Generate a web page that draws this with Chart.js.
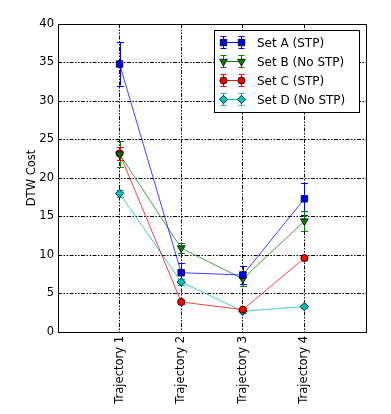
<!DOCTYPE html>
<html>
<head>
<meta charset="utf-8">
<script src="https://cdn.jsdelivr.net/npm/chart.js@4/dist/chart.umd.min.js"></script>
<style>
  html, body { margin: 0; padding: 0; background: #fff; }
</style>
</head>
<body>
<canvas id="dtw-chart" width="391" height="414"></canvas>
<script>
'use strict';

// values
const trajectories = ['Trajectory 1', 'Trajectory 2', 'Trajectory 3', 'Trajectory 4'];
const yTicks = [0, 5, 10, 15, 20, 25, 30, 35, 40];

const seriesNames = ['Set A (STP)', 'Set B (No STP)', 'Set C (STP)', 'Set D (No STP)'];
const setA = [34.8, 7.7, 7.4, 17.3];
const setB = [23.1, 10.9, 6.9, 14.4];
const setC = [23.2, 3.9, 2.9, 9.6];
const setD = [18.0, 6.5, 2.7, 3.3];
const errA = [2.8, 1.2, 1.2, 2.1];
const errB = [1.7, 0.7, 0.9, 1.3];
const errC = [0.8, 0.2, 0.2, 0.3];
const errD = [0.5, 0.4, 0.2, 0.2];

const colors = ['#0000ff', '#008000', '#ff0000', '#00bfbf'];
const lineColors = ['rgba(0,0,255,0.75)', 'rgba(0,128,0,0.75)', 'rgba(255,0,0,0.75)', 'rgba(0,191,191,0.75)'];
const markers = ['rect', 'triangle', 'circle', 'rectRot'];
const markerRot = [0, 180, 0, 0];
const markerSize = [4.6, 4.5, 3.6, 4.2];

const FONT = 'DejaVu Sans';
const gridDash = [4, 1.5, 1.5, 1.5, 1.5, 1.5];

const toPoints = function(vals) {
  let out = [];
  for (let i = 0; i < vals.length; i++) {
    out.push({ x: i + 1, y: vals[i] });
  }
  return out;
};

const allSets = [setA, setB, setC, setD];
const allErrs = [errA, errB, errC, errD];

let datasets = [];
for (let s = 0; s < allSets.length; s++) {
  datasets.push({
    label: seriesNames[s],
    data: toPoints(allSets[s]),
    errors: allErrs[s],
    borderColor: lineColors[s],
    backgroundColor: colors[s],
    borderWidth: 1,
    pointStyle: markers[s],
    rotation: markerRot[s],
    pointRadius: markerSize[s],
    pointBackgroundColor: colors[s],
    pointBorderColor: '#000',
    pointBorderWidth: 0.8,
    tension: 0
  });
}

const drawMarker = function(ctx, s, x, y) {
  ctx.save();
  ctx.fillStyle = colors[s];
  ctx.strokeStyle = '#000';
  ctx.lineWidth = 0.8;
  Chart.helpers.drawPoint(ctx, {
    pointStyle: markers[s],
    rotation: markerRot[s],
    radius: markerSize[s],
    borderWidth: 0.8
  }, x, y);
  ctx.restore();
};

const errorBars = {
  id: 'errorBars',
  beforeDatasetsDraw(chart) {
    const ctx = chart.ctx;
    const xs = chart.scales.x;
    const ys = chart.scales.y;
    chart.data.datasets.forEach(function(ds, s) {
      ctx.save();
      ctx.strokeStyle = colors[s];
      ctx.lineWidth = 1;
      ds.data.forEach(function(p, i) {
        const px = Math.round(xs.getPixelForValue(p.x)) + 0.5;
        const top = ys.getPixelForValue(p.y + ds.errors[i]);
        const bot = ys.getPixelForValue(p.y - ds.errors[i]);
        ctx.beginPath();
        ctx.moveTo(px, top);
        ctx.lineTo(px, bot);
        ctx.moveTo(px - 3.5, Math.round(top) + 0.5);
        ctx.lineTo(px + 3.5, Math.round(top) + 0.5);
        ctx.moveTo(px - 3.5, Math.round(bot) + 0.5);
        ctx.lineTo(px + 3.5, Math.round(bot) + 0.5);
        ctx.stroke();
      });
      ctx.restore();
    });
  },
  afterDraw(chart) {
    const ctx = chart.ctx;
    const a = chart.chartArea;
    // frame
    ctx.save();
    ctx.strokeStyle = '#000';
    ctx.lineWidth = 1;
    ctx.strokeRect(Math.round(a.left) + 0.5, Math.round(a.top) + 0.5,
      Math.round(a.right - a.left), Math.round(a.bottom - a.top));
    ctx.restore();

    // legend box in the upper right
    const bx = 214.5, by = 30.5, bw = 145, bh = 82;
    ctx.save();
    ctx.fillStyle = '#fff';
    ctx.fillRect(bx, by, bw, bh);
    ctx.strokeStyle = '#000';
    ctx.lineWidth = 1;
    ctx.strokeRect(bx, by, bw, bh);
    ctx.font = '12px "' + FONT + '"';
    ctx.textBaseline = 'middle';
    ctx.textAlign = 'left';
    for (let s = 0; s < seriesNames.length; s++) {
      const ry = Math.round(41.5 + s * 19.3) + 0.5;
      const x1 = 223.5, x2 = 241.5;
      ctx.strokeStyle = colors[s];
      ctx.lineWidth = 1;
      ctx.beginPath();
      ctx.moveTo(x1, ry);
      ctx.lineTo(x2, ry);
      [x1, x2].forEach(function(ex) {
        ctx.moveTo(ex, ry - 6);
        ctx.lineTo(ex, ry + 6);
        ctx.moveTo(ex - 3, ry - 6);
        ctx.lineTo(ex + 3, ry - 6);
        ctx.moveTo(ex - 3, ry + 6);
        ctx.lineTo(ex + 3, ry + 6);
      });
      ctx.stroke();
      drawMarker(ctx, s, x1, ry);
      drawMarker(ctx, s, x2, ry);
      ctx.fillStyle = '#000';
      ctx.fillText(seriesNames[s], 257, ry + 1);
    }
    ctx.restore();
  }
};

const ctx = document.getElementById('dtw-chart').getContext('2d');

const myChart = new Chart(ctx, {
  type: 'line',
  data: { datasets: datasets },
  plugins: [errorBars],
  options: {
    responsive: false,
    animation: false,
    layout: { padding: { top: 24, right: 25, left: 25, bottom: 0 } },
    plugins: {
      legend: { display: false },
      tooltip: { enabled: false }
    },
    scales: {
      x: {
        type: 'linear',
        min: 0,
        max: 5,
        afterBuildTicks(scale) {
          scale.ticks = trajectories.map(function(t, i) { return { value: i + 1 }; });
        },
        afterFit(scale) { scale.height = 82; },
        ticks: {
          minRotation: 90,
          maxRotation: 90,
          color: '#000',
          padding: 4,
          font: { family: FONT, size: 11.5 },
          callback: function(v) { return trajectories[v - 1] || ''; }
        },
        grid: {
          color: '#000',
          lineWidth: 1,
          drawTicks: false
        },
        border: { display: false, dash: gridDash }
      },
      y: {
        min: 0,
        max: 40,
        afterBuildTicks(scale) {
          scale.ticks = yTicks.map(function(v) { return { value: v }; });
        },
        afterFit(scale) { scale.width = 33; },
        title: {
          display: true,
          text: 'DTW Cost',
          color: '#000',
          padding: { top: 0, bottom: 0 },
          font: { family: FONT, size: 11.5 }
        },
        ticks: {
          color: '#000',
          padding: 4,
          font: { family: FONT, size: 11.5 }
        },
        grid: {
          color: '#000',
          lineWidth: 1,
          drawTicks: false
        },
        border: { display: false, dash: gridDash }
      }
    }
  }
});
</script>
</body>
</html>
